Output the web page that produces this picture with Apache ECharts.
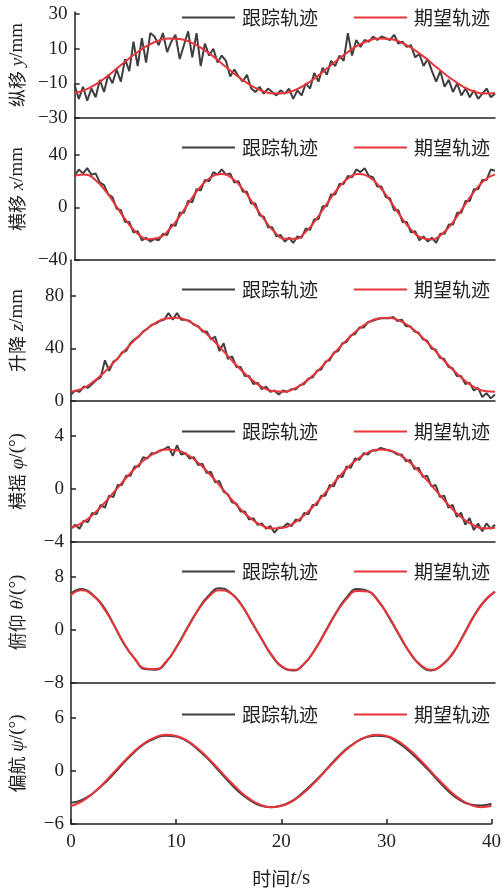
<!DOCTYPE html>
<html>
<head>
<meta charset="utf-8">
<script src="https://cdn.jsdelivr.net/npm/echarts@6/dist/echarts.min.js"></script>
<style>
html, body { margin: 0; padding: 0; background: #fff; }
#chart { width: 504px; height: 890px; }
</style>
</head>
<body>
<div id="chart"></div>
<script>
// 时间 t/s
const tDesired = [0,1,2,3,4,5,6,7,8,9,10,11,12,13,14,15,16,17,18,19,20,
  21,22,23,24,25,26,27,28,29,30,31,32,33,34,35,36,37,38,39,40];
const tTrack = [0,0.4,0.8,1.2,1.6,2,2.4,2.8,3.2,3.6,
  4,4.4,4.8,5.2,5.6,6,6.4,6.8,7.2,7.6,
  8,8.4,8.8,9.2,9.6,10,10.4,10.8,11.2,11.6,
  12,12.4,12.8,13.2,13.6,14,14.4,14.8,15.2,15.6,
  16,16.4,16.8,17.2,17.6,18,18.4,18.8,19.2,19.6,
  20,20.4,20.8,21.2,21.6,22,22.4,22.8,23.2,23.6,
  24,24.4,24.8,25.2,25.6,26,26.4,26.8,27.2,27.6,
  28,28.4,28.8,29.2,29.6,30,30.4,30.8,31.2,31.6,
  32,32.4,32.8,33.2,33.6,34,34.4,34.8,35.2,35.6,
  36,36.4,36.8,37.2,37.6,38,38.4,38.8,39.2,39.6,
  40];

// 纵移 y/mm
const yDesired = [-15.6,-13.8,-10.6,-6.4,-1.5,3.5,8.1,12.0,14.7,15.9,15.6,13.8,10.6,6.4,1.5,-3.5,-8.1,-12.0,-14.7,-15.9,
  -15.6,-13.8,-10.6,-6.4,-1.5,3.5,8.1,12.0,14.7,15.9,15.6,13.8,10.6,6.4,1.5,-3.5,-8.1,-12.0,-14.7,-15.9,-15.6];
const yTrack = [-11,-19,-12,-20,-13,-18,-8,-15,-5,-10,
  -2,-9,4,-3,14,0,16,2,19,17,
  12,19,8,14,18,4,12,20,5,19,
  0,13,6,10,2,6,3,-6,-2,-6,
  -9,-5,-13,-15,-12,-16,-13,-15,-17,-14,
  -16,-13,-19,-14,-17,-10,-13,-4,-9,-1,
  -5,3,0,6,3,19,6,15,11,15,
  14,17,15,17,16,15,18,13,14,11,
  12,5,7,0,4,-3,-9,-3,-12,-8,
  -15,-10,-17,-13,-18,-14,-19,-16,-13,-18,
  -16];

// 横移 x/mm
const xDesired = [24.1,25.2,20.8,12.0,0.5,-11.0,-19.9,-24.2,-23.1,-16.8,-6.6,5.2,16.0,23.2,25.5,22.2,14.0,2.9,-8.7,-18.4,
  -23.8,-23.8,-18.4,-8.8,2.8,14.0,22.1,25.5,23.3,16.0,5.3,-6.5,-16.7,-23.1,-24.3,-19.9,-11.1,0.4,11.9,20.8,25.2];
const xTrack = [24,29,26,30,25,26,19,17,10,8,
  -1,-2,-11,-11,-19,-18,-25,-23,-26,-24,
  -25,-20,-21,-13,-14,-4,-4,5,4,14,
  13,21,20,27,25,29,25,26,19,20,
  12,12,3,3,-6,-7,-15,-15,-22,-21,
  -26,-23,-27,-22,-23,-16,-17,-9,-9,1,
  1,10,10,18,18,24,23,29,27,30,
  24,23,16,16,8,7,-2,-2,-11,-11,
  -19,-18,-25,-22,-26,-23,-27,-20,-20,-13,
  -13,-4,-4,5,5,14,14,21,21,29,
  28];

// 升降 z/mm
const zDesired = [7.0,9.2,14.0,20.8,29.0,37.9,46.4,53.9,59.6,62.8,63.4,61.2,56.4,49.6,41.4,32.5,24.0,16.5,10.8,7.6,
  7.0,9.2,14.0,20.8,29.0,37.9,46.4,53.9,59.6,62.8,63.4,61.2,56.4,49.6,41.4,32.5,24.0,16.5,10.8,7.6,7.0];
const zTrack = [5,8,7,11,10,13,16,18,31,23,
  30,32,37,38,44,47,49,53,55,58,
  59,61,62,67,62,67,62,62,61,58,
  57,53,53,47,49,38,44,32,34,26,
  26,19,19,13,14,9,11,7,8,5,
  8,7,9,9,12,13,17,18,23,24,
  30,31,37,38,44,45,50,51,56,56,
  60,61,62,63,63,63,64,61,62,57,
  57,53,52,47,46,40,39,33,32,26,
  25,19,19,13,14,8,10,3,6,2,
  5];

// 横摇 φ/(°)
const rollDesired = [-2.93,-2.58,-1.98,-1.19,-0.28,0.65,1.53,2.25,2.75,2.99,2.93,2.58,1.98,1.19,0.28,-0.65,-1.53,-2.25,-2.75,-2.99,
  -2.93,-2.58,-1.98,-1.19,-0.28,0.65,1.53,2.25,2.75,2.99,2.93,2.58,1.98,1.19,0.28,-0.65,-1.53,-2.25,-2.75,-2.99,-2.93];
const rollTrack = [-3.0,-2.7,-3.0,-2.4,-2.5,-1.8,-1.9,-1.2,-1.4,-0.5,
  -0.6,0.3,0.3,1.0,1.0,1.7,1.7,2.4,2.3,2.7,
  2.7,2.9,3.0,3.2,2.5,3.3,2.6,2.7,2.3,2.4,
  1.8,1.9,1.2,1.3,0.5,0.6,-0.2,-0.4,-1.0,-1.1,
  -1.7,-1.7,-2.3,-2.2,-2.7,-2.6,-3.0,-2.8,-3.3,-2.9,
  -2.9,-2.6,-2.8,-2.3,-2.4,-1.8,-1.9,-1.2,-1.2,-0.5,
  -0.5,0.3,0.2,1.0,0.9,1.7,1.6,2.3,2.2,2.7,
  2.6,2.9,2.9,3.1,3.0,2.9,2.8,2.6,2.6,2.1,
  2.2,1.5,1.6,0.9,1.0,0.2,0.3,-0.6,-0.5,-1.4,
  -1.2,-2.1,-1.8,-2.7,-2.2,-3.1,-2.6,-3.2,-2.6,-3.0,
  -2.7];

// 俯仰 θ/(°)
const pitchDesired = [5.3,6.0,5.3,3.5,0.9,-2.0,-4.3,-5.8,-5.9,-4.7,-2.5,0.3,3.0,5.0,6.0,5.6,3.9,1.4,-1.4,-3.9,
  -5.6,-6.0,-5.1,-3.0,-0.3,2.5,4.7,5.9,5.8,4.3,2.0,-0.8,-3.5,-5.3,-6.0,-5.3,-3.5,-0.9,2.0,4.3,5.8];
const pitchTrack = [5.5,6.2,5.4,3.7,0.9,-2.1,-4.3,-5.9,-6.0,-4.8,-2.4,0.4,3.1,5.2,6.3,5.7,4.0,1.3,-1.4,-4.0,
  -5.7,-6.1,-5.1,-3.0,-0.2,2.6,4.9,6.2,5.9,4.4,1.9,-0.9,-3.5,-5.4,-6.1,-5.3,-3.6,-0.8,2.1,4.4,5.8];

// 偏航 ψ/(°)
const yawDesired = [-3.97,-3.46,-2.61,-1.51,-0.26,1.02,2.20,3.16,3.81,4.09,3.97,3.46,2.61,1.51,0.26,-1.02,-2.20,-3.16,-3.81,-4.09,
  -3.97,-3.46,-2.61,-1.51,-0.26,1.02,2.20,3.16,3.81,4.09,3.97,3.46,2.61,1.51,0.26,-1.02,-2.20,-3.16,-3.81,-4.09,-3.97];
const yawTrack = [-3.6,-3.3,-2.6,-1.6,-0.4,0.9,2.1,3.1,3.7,4.0,3.9,3.4,2.5,1.4,0.1,-1.2,-2.4,-3.3,-3.9,-4.1,
  -3.9,-3.4,-2.5,-1.4,-0.2,1.1,2.3,3.2,3.8,4.0,3.9,3.3,2.4,1.3,0.1,-1.2,-2.4,-3.3,-3.8,-3.9,-3.7];

const legendNames = ['跟踪轨迹', '期望轨迹'];

const panels = [
  { name: '{c|纵移}{i| y}{r|/mm}', ticks: [-30,-10,10,30], tTr: tTrack, track: yTrack, desired: yDesired },
  { name: '{c|横移}{i| x}{r|/mm}', ticks: [-40,0,40], tTr: tTrack, track: xTrack, desired: xDesired },
  { name: '{c|升降}{i| z}{r|/mm}', ticks: [0,40,80], tTr: tTrack, track: zTrack, desired: zDesired },
  { name: '{c|横摇}{i| φ}{r|/(°)}', ticks: [-4,0,4], tTr: tTrack, track: rollTrack, desired: rollDesired },
  { name: '{c|俯仰}{i| θ}{r|/(°)}', ticks: [-8,0,8], tTr: tDesired, track: pitchTrack, desired: pitchDesired },
  { name: '{c|偏航}{i| ψ}{r|/(°)}', ticks: [-6,0,6], tTr: tDesired, track: yawTrack, desired: yawDesired }
];

// layout (px)
const tickTop = [14, 155, 296, 436, 577, 718];
const axisBottom = [118, 260, 401, 542, 683, 824];
const legendMid = [13, 143, 285, 427, 567, 710];

const serif = '"Liberation Serif", "Times New Roman", serif';
const cjk = '"Noto Sans CJK SC", sans-serif';
const axisColor = '#222';
const grayColor = '#3f3f3f';
const redColor = '#e8353a';

const zip = (a, b) => a.map((v, i) => [v, b[i]]);
const minus = (v) => String(v).replace('-', '\u2212');

let grid = [], xAxis = [], yAxis = [], series = [], legend = [];

panels.forEach((p, i) => {
  const last = i === panels.length - 1;
  const gTop = i === 0 ? 12 : axisBottom[i - 1];
  const lo = p.ticks[0], hi = p.ticks[p.ticks.length - 1];
  const yMax = hi + (tickTop[i] - gTop) * (hi - lo) / (axisBottom[i] - tickTop[i]);

  grid.push({ left: 71, right: 9, top: gTop, height: axisBottom[i] - gTop });

  xAxis.push({
    gridIndex: i, type: 'value', min: 0, max: 40, interval: 10,
    axisLine: { show: true, onZero: false, lineStyle: { color: axisColor, width: 1.5 } },
    axisTick: { show: last, inside: true, length: 5, lineStyle: { color: axisColor, width: 1.5 } },
    axisLabel: { show: last, margin: 9, fontSize: 19, fontFamily: serif, color: axisColor },
    splitLine: { show: false },
    name: last ? '{c|时间}{i|t}{r|/s}' : '',
    nameLocation: 'middle', nameGap: 44,
    nameTextStyle: {
      rich: {
        c: { fontFamily: cjk, fontSize: 19, color: axisColor },
        i: { fontFamily: serif, fontStyle: 'italic', fontSize: 21, color: axisColor },
        r: { fontFamily: serif, fontSize: 21, color: axisColor }
      }
    }
  });

  yAxis.push({
    gridIndex: i, type: 'value', min: lo, max: yMax,
    axisLine: { show: true, onZero: false, lineStyle: { color: axisColor, width: 1.5 } },
    axisTick: { show: true, inside: true, length: 5, customValues: p.ticks, lineStyle: { color: axisColor, width: 1.5 } },
    axisLabel: { customValues: p.ticks, margin: 7, fontSize: 19, fontFamily: serif, color: axisColor, formatter: minus },
    splitLine: { show: false },
    name: p.name, nameLocation: 'middle', nameGap: 44,
    nameTextStyle: {
      rich: {
        c: { fontFamily: cjk, fontSize: 18, color: axisColor },
        i: { fontFamily: serif, fontStyle: 'italic', fontSize: 19, color: axisColor },
        r: { fontFamily: serif, fontSize: 19, color: axisColor }
      }
    }
  });

  legend.push({
    left: 177, top: legendMid[i] - 10,
    icon: 'rect', itemWidth: 53, itemHeight: 2, itemGap: 36,
    data: legendNames,
    textStyle: { fontSize: 19, fontFamily: cjk, color: axisColor, padding: [0, 0, 0, 2] }
  });

  series.push({
    name: legendNames[0], type: 'line', xAxisIndex: i, yAxisIndex: i,
    data: zip(p.tTr, p.track), symbol: 'none', smooth: i >= 4,
    lineStyle: { color: grayColor, width: 2 }, itemStyle: { color: grayColor }, z: 2
  });
  series.push({
    name: legendNames[1], type: 'line', xAxisIndex: i, yAxisIndex: i,
    data: zip(tDesired, p.desired), symbol: 'none', smooth: true,
    lineStyle: { color: redColor, width: 2 }, itemStyle: { color: redColor }, z: 3
  });
});

const chart = echarts.init(document.getElementById('chart'));
chart.setOption({
  animation: false,
  backgroundColor: '#fff',
  grid, xAxis, yAxis, legend, series
});
</script>
</body>
</html>
